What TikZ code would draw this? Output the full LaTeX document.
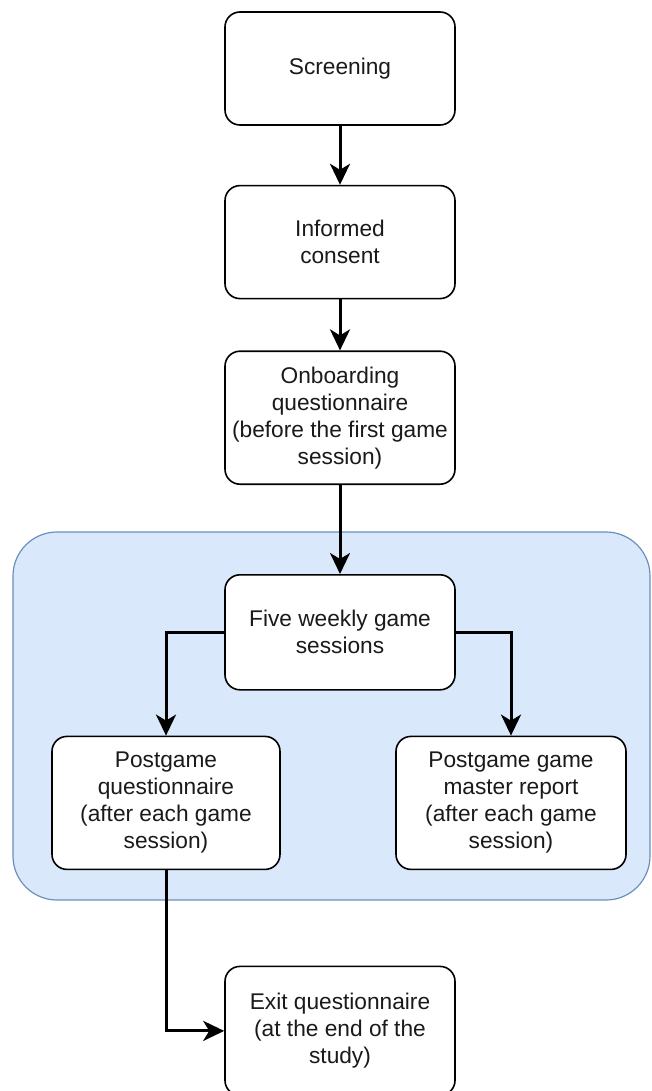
\documentclass[tikz,border=0pt]{standalone}
\usepackage{fontspec}
\setmainfont{Liberation Sans}
\usepackage{xcolor}
\usepackage{tikz}
\usetikzlibrary{arrows.meta,positioning}
\definecolor{phaseFill}{HTML}{DAE8FC}
\definecolor{phaseLine}{HTML}{6C8EBF}
\definecolor{stepText}{HTML}{1A1A1A}
\tikzset{
  studybox/.style={draw=black, fill=white, rounded corners=7.5pt, line width=0.8pt, align=center, inner sep=2pt, text=stepText, minimum width=115pt, font=\fontsize{11.35}{13.5}\selectfont},
  studyarrow/.style={-{Stealth[length=10.5pt, width=10pt, inset=3pt]}, line width=1.5pt, draw=black},
  phasebox/.style={draw=phaseLine, fill=phaseFill, rounded corners=22pt, line width=0.6pt}
}

\begin{document}
\begin{tikzpicture}
    \useasboundingbox (0,0) rectangle (326pt,-545.5pt);
    \draw[phasebox] (6.5pt,-266pt) rectangle (325pt,-450pt);

    \node[studybox, minimum height=56.5pt] (screen) at (170pt,-34.25pt) {Screening};
    \node[studybox, minimum height=56.5pt, below=29.5pt of screen] (consent)
      {Informed\\consent};
    \node[studybox, minimum height=66.5pt, below=25.5pt of consent] (onboard)
      {Onboarding\\questionnaire\\(before the first game\\session)};
    \node[studybox, minimum height=57.5pt, below=44.5pt of onboard] (weekly)
      {Five weekly game\\sessions};
    \node[studybox, minimum height=66.5pt, minimum width=114pt, below=22.5pt of weekly, xshift=-87pt] (postplayer)
      {Postgame\\questionnaire\\(after each game\\session)};
    \node[studybox, minimum height=66.5pt, minimum width=115pt, below=22.5pt of weekly, xshift=85.5pt] (postmaster)
      {Postgame game\\master report\\(after each game\\session)};
    \node[studybox, minimum height=64.5pt, below=137.5pt of weekly] (exit)
      {Exit questionnaire\\(at the end of the\\study)};

    \draw[studyarrow] (screen) -- (consent);
    \draw[studyarrow] (consent) -- (onboard);
    \draw[studyarrow] (onboard) -- (weekly);
    \draw[studyarrow] (weekly.west) -| (postplayer.north);
    \draw[studyarrow] (weekly.east) -| (postmaster.north);
    \draw[studyarrow] (postplayer.south) |- (exit.west);
  \end{tikzpicture}
\end{document}
